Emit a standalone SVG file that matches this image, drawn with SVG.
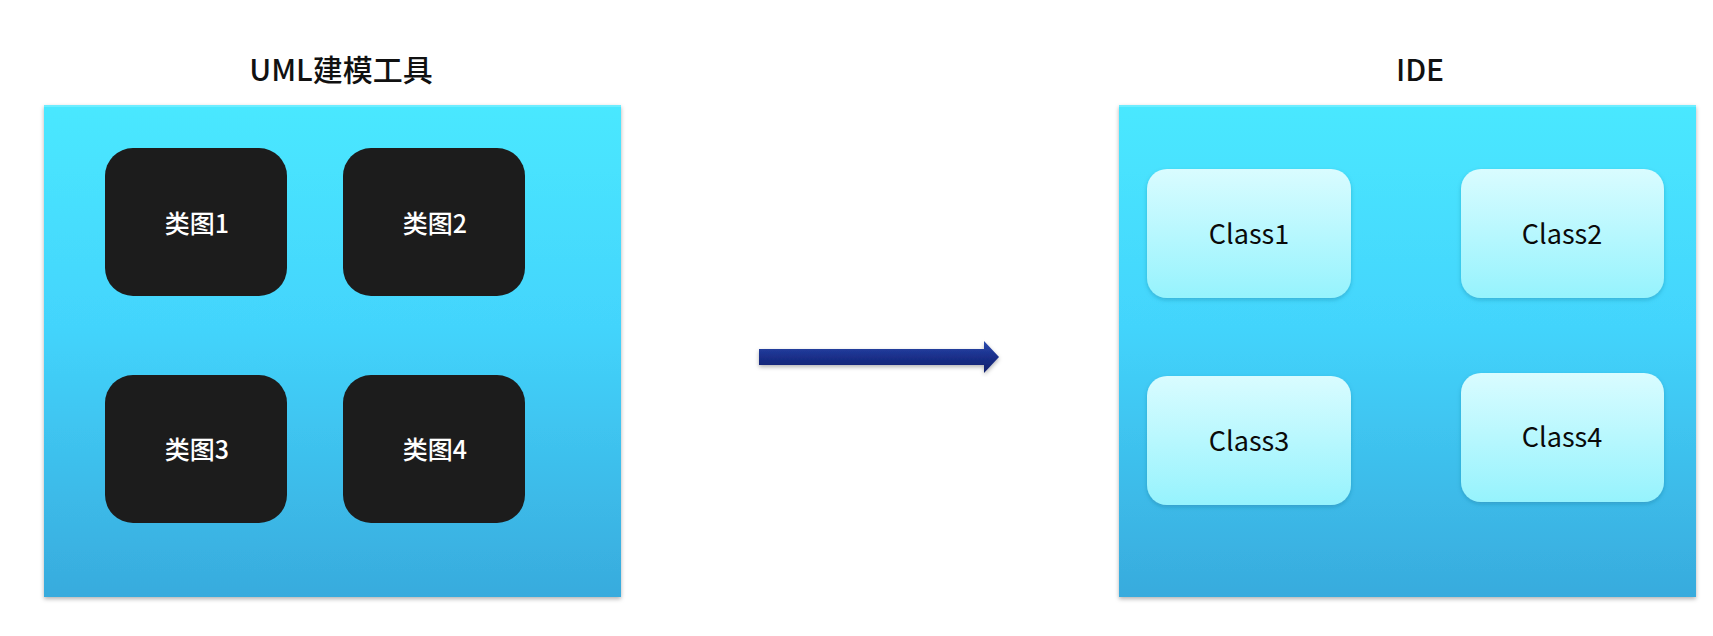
<svg xmlns="http://www.w3.org/2000/svg" width="1713" height="636" viewBox="0 0 1713 636">
<defs>
<linearGradient id="panelGrad" x1="0" y1="0" x2="0" y2="1">
<stop offset="0" stop-color="#4AE8FF"/>
<stop offset="0.45" stop-color="#43D4FC"/>
<stop offset="1" stop-color="#38ABDD"/>
</linearGradient>
<linearGradient id="classGrad" x1="0" y1="0" x2="0" y2="1">
<stop offset="0" stop-color="#D9FCFF"/>
<stop offset="1" stop-color="#96F3FD"/>
</linearGradient>
<linearGradient id="arrowGrad" x1="0" y1="0" x2="0" y2="1">
<stop offset="0" stop-color="#2A4AAE"/>
<stop offset="0.5" stop-color="#1A2F8A"/>
<stop offset="1" stop-color="#10206A"/>
</linearGradient>
<filter id="shadow" x="-5%" y="-5%" width="110%" height="115%">
<feDropShadow dx="0" dy="2" stdDeviation="2" flood-color="#000" flood-opacity="0.3"/>
</filter>
<filter id="softShadow" x="-10%" y="-10%" width="120%" height="130%">
<feDropShadow dx="0" dy="2" stdDeviation="2" flood-color="#1a6f90" flood-opacity="0.35"/>
</filter>
</defs>
<style>
.title{font-family:"Noto Sans CJK SC","Noto Sans",sans-serif;font-size:30px;font-weight:500;fill:#111;text-anchor:middle;dominant-baseline:central}
.panel{fill:url(#panelGrad);filter:url(#shadow)}
.dark{fill:#1C1C1C}
.darkText{font-family:"Noto Sans CJK SC","Noto Sans",sans-serif;font-size:25px;font-weight:500;fill:#FFFFFF;text-anchor:middle;dominant-baseline:central}
.cls{fill:url(#classGrad);filter:url(#softShadow)}
.clsText{font-family:"Noto Sans CJK SC","Noto Sans",sans-serif;font-size:27px;font-weight:400;fill:#0A0A0A;text-anchor:middle;dominant-baseline:central}
</style>
<rect width="1713" height="636" fill="#FFFFFF"/>

<g id="uml-tool">
<text class="title" x="341" y="68">UML建模工具</text>
<rect class="panel" x="44" y="105" width="577" height="492"/>
<rect x="44" y="105" width="577" height="2" fill="#7FF0FF" opacity="0.7"/>
</g>
<g id="class-diagram-1">
<rect class="dark" x="105" y="148" width="182" height="148" rx="28"/>
<text class="darkText" x="197" y="222">类图1</text>
</g>
<g id="class-diagram-2">
<rect class="dark" x="343" y="148" width="182" height="148" rx="28"/>
<text class="darkText" x="435" y="222">类图2</text>
</g>
<g id="class-diagram-3">
<rect class="dark" x="105" y="375" width="182" height="148" rx="28"/>
<text class="darkText" x="197" y="448">类图3</text>
</g>
<g id="class-diagram-4">
<rect class="dark" x="343" y="375" width="182" height="148" rx="28"/>
<text class="darkText" x="435" y="448">类图4</text>
</g>

<g id="ide">
<text class="title" x="1420" y="68">IDE</text>
<rect class="panel" x="1119" y="105" width="577" height="492"/>
<rect x="1119" y="105" width="577" height="2" fill="#7FF0FF" opacity="0.7"/>
</g>
<g id="class1">
<rect class="cls" x="1147" y="169" width="204" height="129" rx="20"/>
<text class="clsText" x="1249" y="232">Class1</text>
</g>
<g id="class2">
<rect class="cls" x="1461" y="169" width="203" height="129" rx="20"/>
<text class="clsText" x="1562" y="232">Class2</text>
</g>
<g id="class3">
<rect class="cls" x="1147" y="376" width="204" height="129" rx="20"/>
<text class="clsText" x="1249" y="439">Class3</text>
</g>
<g id="class4">
<rect class="cls" x="1461" y="373" width="203" height="129" rx="20"/>
<text class="clsText" x="1562" y="435">Class4</text>
</g>

<g id="connectors">
<polygon points="759,349 984,349 984,341 999,357 984,373 984,365 759,365" fill="url(#arrowGrad)" filter="url(#shadow)"/>
</g>
</svg>
